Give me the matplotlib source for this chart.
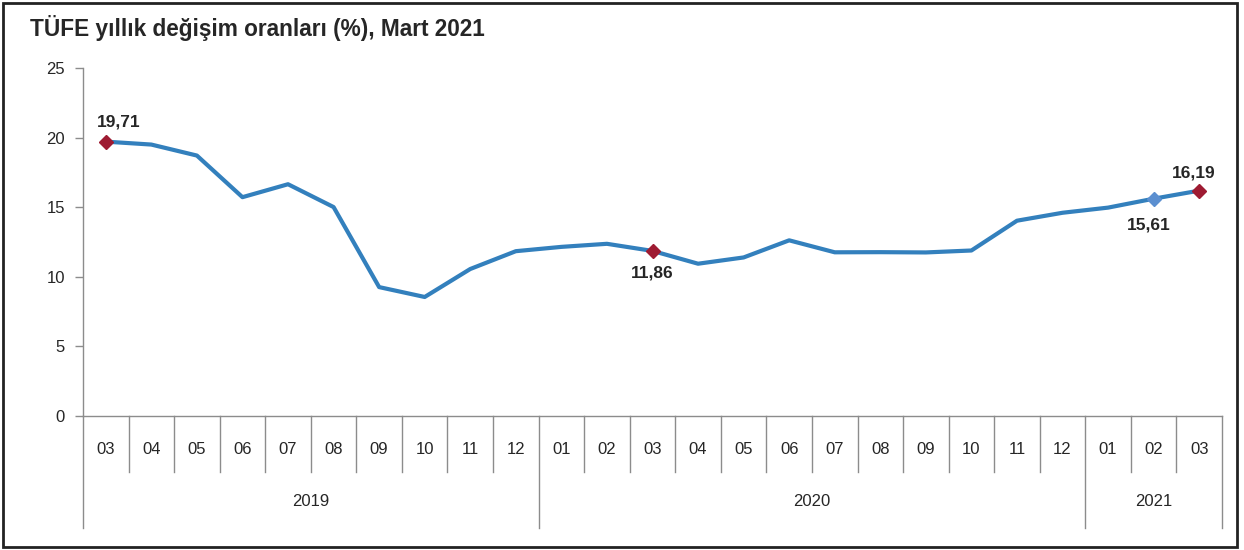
import numpy as np
import matplotlib.pyplot as plt
from matplotlib.patches import Rectangle

plt.rcParams['font.family'] = ['Liberation Sans', 'DejaVu Sans']

# TÜFE yıllık değişim oranları (%)
aylar = ['03', '04', '05', '06', '07', '08', '09', '10', '11', '12',
         '01', '02', '03', '04', '05', '06', '07', '08', '09', '10', '11', '12',
         '01', '02', '03']
yillar = ['2019', '2020', '2021']
yil_ay_sayisi = [10, 12, 3]
degerler = [19.71, 19.50, 18.71, 15.72, 16.65, 15.01, 9.26, 8.55, 10.56, 11.84,
            12.15, 12.37, 11.86, 10.94, 11.39, 12.62, 11.76, 11.77, 11.75, 11.89,
            14.03, 14.60, 14.97, 15.61, 16.19]

# işaretlenen noktalar
kirmizi_idx = [0, 12, 24]
mavi_idx = [23]

cizgi_renk = '#3380bd'
kirmizi = '#9e1b32'
mavi_nokta = '#5b8fd0'
gri = '#8c8c8c'
yazi = '#262626'

fig = plt.figure(figsize=(12.44, 5.5), dpi=100)
ax = fig.add_axes([83 / 1244, 1 - 416 / 550, 1139 / 1244, 348 / 550])

x = np.arange(len(degerler))
ax.plot(x, degerler, color=cizgi_renk, linewidth=3, solid_joinstyle='round', zorder=3)
ax.plot(x[kirmizi_idx], np.array(degerler)[kirmizi_idx], 'D', color=kirmizi,
        markersize=7.5, zorder=4)
ax.plot(x[mavi_idx], np.array(degerler)[mavi_idx], 'D', color=mavi_nokta,
        markersize=7.5, zorder=4)

def etiket(i, dy, dx=0):
    ax.annotate(f'{degerler[i]:.2f}'.replace('.', ','), (x[i], degerler[i]),
                xytext=(dx, dy), textcoords='offset points', ha='center',
                va='center', fontsize=12.5, fontweight='bold', color=yazi)

etiket(0, 14, 9)
etiket(12, -16)
etiket(23, -19, -3.5)
etiket(24, 13, -4)

ax.set_xlim(-0.5, len(degerler) - 0.5)
ax.set_ylim(0, 25)
ax.set_yticks(np.arange(0, 26, 5))
ax.tick_params(axis='y', colors=gri, labelcolor=yazi, labelsize=12,
               length=6, width=1, pad=7)
ax.set_xticks([])
for s in ['top', 'right']:
    ax.spines[s].set_visible(False)
for s in ['left', 'bottom']:
    ax.spines[s].set_color(gri)
    ax.spines[s].set_linewidth(1)

# kategori ekseni: ay ve yıl satırları
tr = ax.get_xaxis_transform()
ay_alt = -0.161
yil_alt = -0.322
sinirlar = [-0.5]
for n in yil_ay_sayisi:
    sinirlar.append(sinirlar[-1] + n)
for i in range(len(aylar) + 1):
    xs = i - 0.5
    alt = yil_alt if xs in sinirlar else ay_alt
    ax.plot([xs, xs], [0, alt], color=gri, linewidth=1, transform=tr, clip_on=False)
for i, a in enumerate(aylar):
    ax.text(i, -0.095, a, transform=tr, ha='center', va='center',
            fontsize=12, color=yazi)
for k, y in enumerate(yillar):
    orta = (sinirlar[k] + sinirlar[k + 1]) / 2
    ax.text(orta, -0.247, y, transform=tr, ha='center', va='center',
            fontsize=12, color=yazi)

fig.text(30 / 1244, 1 - 28 / 550, 'TÜFE yıllık değişim oranları (%), Mart 2021',
         fontsize=16.3, fontweight='bold', color=yazi, ha='left', va='center')

fig.patches.append(Rectangle((3 / 1244, 3 / 550), 1234 / 1244, 544 / 550,
                             transform=fig.transFigure, fill=False,
                             edgecolor='#222222', linewidth=2))

fig.savefig('out.png', dpi=100)
